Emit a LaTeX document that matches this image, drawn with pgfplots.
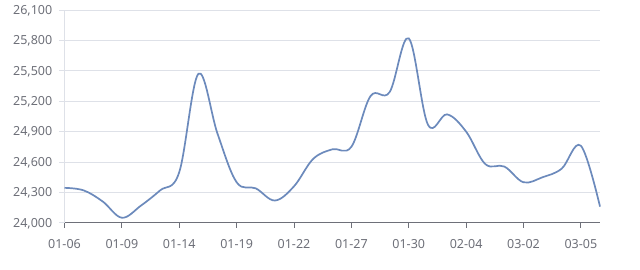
\documentclass[border=0pt]{standalone}
\usepackage{pgfplots}
\pgfplotsset{compat=1.18}
\usepackage{fontspec}
\setmainfont{Noto Sans}
\definecolor{linec}{RGB}{108,138,188}
\definecolor{gridc}{RGB}{222,225,232}
\definecolor{axisc}{RGB}{110,112,121}
\definecolor{textc}{RGB}{110,112,121}
\begin{document}
\begin{tikzpicture}
\path[use as bounding box, fill=white] (-64.5pt,-47.2pt) rectangle (575.5pt,222.8pt);
\begin{axis}[
  at={(0,0)}, anchor=south west,
  scale only axis, width=535.5pt, height=212.8pt,
  xmin=0, xmax=28, ymin=24000, ymax=26100,
  scaled y ticks=false,
  axis lines=left,
  axis line style={-},
  x axis line style={axisc, line width=0.8pt},
  y axis line style={gridc, line width=0.8pt},
  xtick={0,3,...,27},
  xticklabels={01-06,01-09,01-14,01-19,01-22,01-27,01-30,02-04,03-02,03-05},
  ytick={24000,24300,24600,24900,25200,25500,25800,26100},
  yticklabels={{24,000},{24,300},{24,600},{24,900},{25,200},{25,500},{25,800},{26,100}},
  tick align=outside,
  major tick length=5pt,
  xtick style={axisc, line width=0.8pt},
  ytick style={gridc, line width=0.8pt},
  ymajorgrids,
  grid style={gridc, line width=0.8pt},
  tick label style={font=\fontsize{12.5}{14}\selectfont, text=textc, inner sep=0pt},
  xticklabel style={anchor=north, yshift=-11.5pt},
  yticklabel style={anchor=base east, xshift=-7pt, yshift=-4.4pt},
  clip=false,
]
\addplot[linec, line width=1.7pt, smooth, tension=0.6] coordinates {
(0,24345) (1,24320) (2,24210) (3,24050) (4,24170) (5,24320) (6,24500)
(7,25470) (8,24880) (9,24400) (10,24340) (11,24220) (12,24360) (13,24630)
(14,24725) (15,24750) (16,25250) (17,25290) (18,25820) (19,24970) (20,25070)
(21,24900) (22,24580) (23,24555) (24,24400) (25,24450) (26,24535) (27,24760)
(28,24160)
};
\end{axis}
\end{tikzpicture}
\end{document}
